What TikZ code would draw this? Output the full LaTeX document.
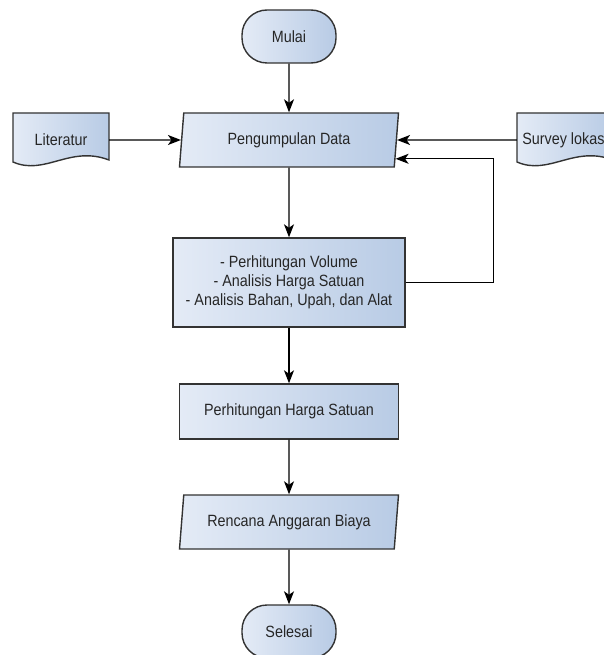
\documentclass[tikz,border=0pt]{standalone}
\usepackage{fontspec}
\setmainfont{Liberation Sans}[FakeStretch=0.88]
\usetikzlibrary{shapes.geometric,arrows.meta,calc}
\definecolor{lc}{HTML}{333333}
\definecolor{tc}{HTML}{262626}
\definecolor{fl}{HTML}{E4EBF6}
\definecolor{fr}{HTML}{B8CBE5}
\begin{document}
\begin{tikzpicture}[x=1pt,y=-1pt,
 every node/.style={font=\fontsize{16.3}{19}\selectfont, text=tc, align=center},
 fillg/.style={left color=fl, right color=fr, draw=lc, line width=1.4pt},
 term/.style={fillg, rounded corners=25pt, minimum width=94pt, minimum height=53pt},
 proc/.style={fillg, minimum height=55pt},
 io/.style={fillg, trapezium, trapezium left angle=77.5, trapezium right angle=102.5, trapezium stretches body, minimum width=219pt, minimum height=54pt, inner sep=2pt},
 arr/.style={draw=black, line width=1.3pt, -{Stealth[length=13pt,width=10pt,inset=3.5pt]}}
]
\useasboundingbox (0,0) rectangle (603,655);

\node[term] (start) at (289,36.5) {Mulai};
\node[io] (pd) at (289,140) {Pengumpulan Data};
\node[proc, minimum width=232pt, minimum height=89pt] (b1) at (289,282.5) {- Perhitungan Volume\\- Analisis Harga Satuan\\- Analisis Bahan, Upah, dan Alat};
\node[proc, minimum width=219pt] (b2) at (289,411.5) {Perhitungan Harga Satuan};
\node[io] (rab) at (289,522) {Rencana Anggaran Biaya};
\node[term] (end) at (289,631.5) {Selesai};

\draw[fillg] (13,113) -- (109,113) -- (109,160) .. controls (70,145) and (45,176) .. (13,162) -- cycle;
\node[minimum width=96pt, minimum height=54pt] (lit) at (61,140) {Literatur};
\draw[fillg] (517,113) -- (613,113) -- (613,160) .. controls (574,145) and (549,176) .. (517,162) -- cycle;
\node[minimum width=96pt, minimum height=54pt] (sur) at (565,140) {Survey lokasi};

\draw[arr] (start) -- (pd);
\draw[arr] (lit.east) -- (pd.west);
\draw[arr] (sur.west) -- (pd.east);
\draw[arr] (pd) -- (b1);
\draw[arr] (b1.east) -- ++(88,0) |- (pd.-10.2);
\draw[arr] (b1) -- (b2);
\draw[arr] (b2) -- (rab);
\draw[arr] (rab) -- (end);
\end{tikzpicture}
\end{document}
